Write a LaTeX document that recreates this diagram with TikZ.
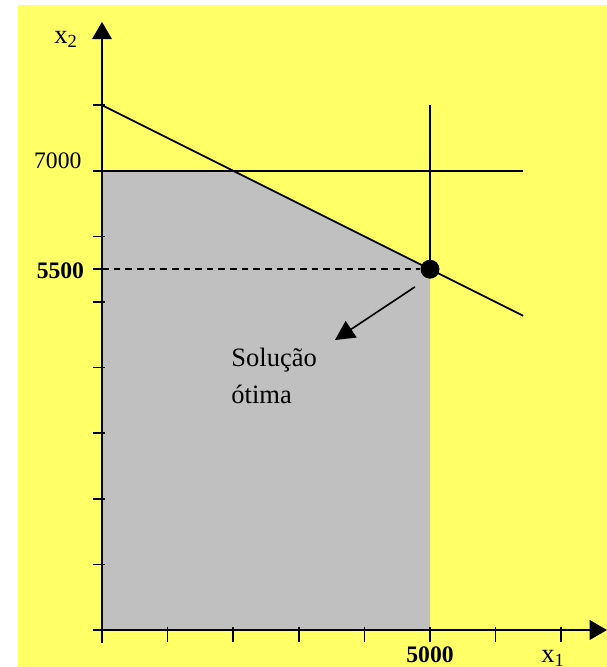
\documentclass[tikz,border=0pt]{standalone}
\usepackage{fontspec}
\setmainfont{Liberation Serif}
\usetikzlibrary{arrows.meta,positioning}
\definecolor{fundo}{HTML}{FFFF66}
\definecolor{regiao}{HTML}{C0C0C0}

\begin{document}
\begin{tikzpicture}[x=2cm, y=2cm,
  eixo/.style={line width=1.6pt, -{Triangle[length=15pt,width=17pt]}},
  reta/.style={line width=1.5pt},
  traco/.style={line width=1.4pt},
  num/.style={font=\fontsize{20.5}{22}\selectfont, inner sep=0pt},
  lbl/.style={font=\fontsize{23}{32}\selectfont},
  ponto/.style={circle, fill=black, inner sep=0pt, minimum size=16.4pt},
  seta/.style={-{Triangle[length=17pt,width=17pt]}, line width=1.4pt}
]
\useasboundingbox (-1.555,-0.564) rectangle (7.698,9.604);
\fill[fundo] (-1.28,-0.564) rectangle (7.698,9.527);
% regiao viavel
\fill[regiao] (0,0) -- (0,7) -- (2,7) -- (5,5.5) -- (5,0) -- cycle;
% eixos
\coordinate (o) at (0,0);
\coordinate (x0) at (-0.14,0);
\coordinate (y0) at (0,-0.2);
\coordinate (xfim) at (7.698,0);
\coordinate (yfim) at (0,9.27);
\draw[eixo] (x0) -- (xfim);
\draw[eixo] (y0) -- (yfim);
\foreach \y in {1,...,8,5.5} \draw[traco] (-0.14,\y) -- (0.04,\y);
\foreach \x in {1,...,7} \draw[traco] (\x,0.04) -- (\x,-0.19);
% restricoes
\coordinate (r1a) at (0,8);
\coordinate (r1b) at (6.42,4.79);
\coordinate (r2a) at (0,7);
\coordinate (r2b) at (6.42,7);
\coordinate (r3a) at (5,8);
\node[ponto] (opt) at (5,5.5) {};
\coordinate (d0) at (0,5.5);
\draw[reta] (r1a) -- (r1b);
\draw[reta] (r2a) -- (r2b);
\draw[reta] (r3a) -- (opt.center);
\draw[reta, dash pattern=on 5.8pt off 4.3pt] (d0) -- (opt);
% rotulos
\node[lbl] (ex2) at (-0.55,9.0) {x\textsubscript{2}};
\node[lbl] (ex1) at (6.875,-0.43) {x\textsubscript{1}};
\node[num, anchor=east] (v7000) at (-0.31,7.16) {7000};
\node[num, anchor=east] (v5500) at (-0.27,5.47) {\textbf{5500}};
\node[num] (v5000) at (5,-0.38) {\textbf{5000}};
\node[lbl, align=left, anchor=west, inner sep=0pt] (sol) at (1.97,3.87) {Solução\\ótima};
\coordinate (s0) at (4.77,5.23);
\coordinate (s1) at (3.55,4.42);
\draw[seta] (s0) -- (s1);
\end{tikzpicture}
\end{document}
